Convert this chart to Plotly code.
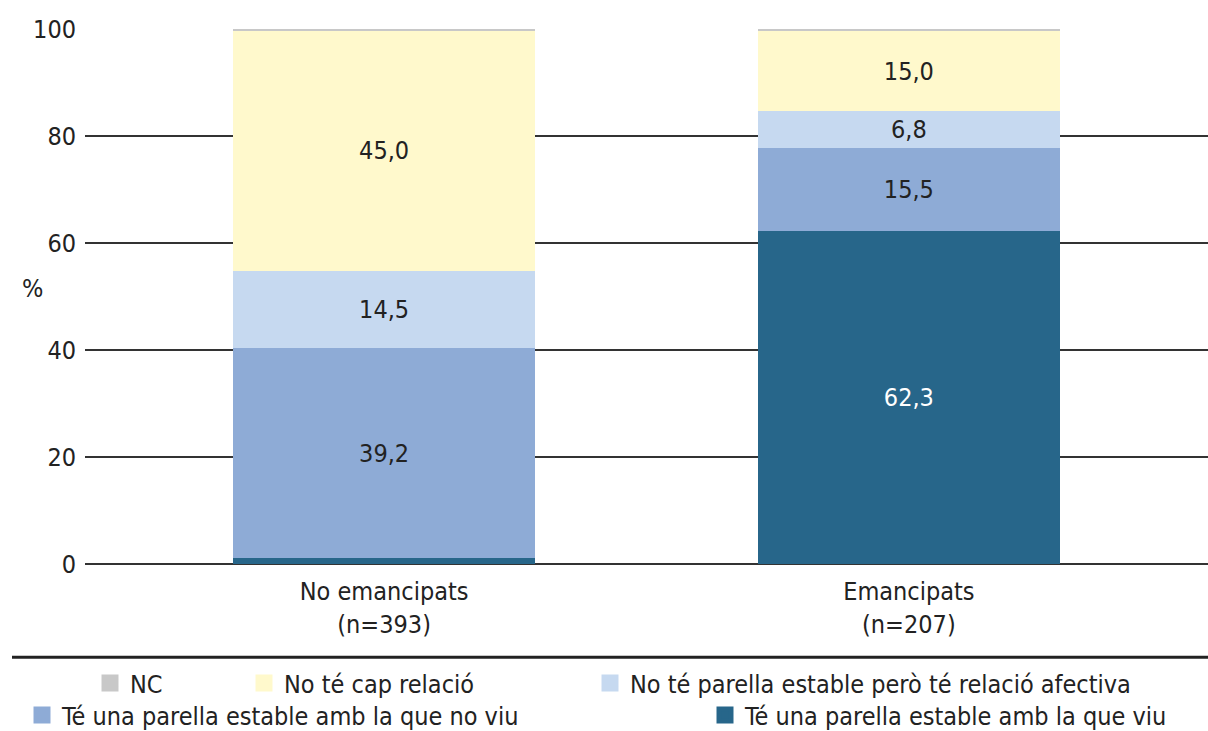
import plotly.graph_objects as go

categories = ["No emancipats<br>(n=393)", "Emancipats<br>(n=207)"]
series_names = [
    "Té una parella estable amb la que viu",
    "Té una parella estable amb la que no viu",
    "No té parella estable però té relació afectiva",
    "No té cap relació",
    "NC",
]
viu = [1.1, 62.3]
no_viu = [39.2, 15.5]
afectiva = [14.5, 6.8]
cap_relacio = [45.0, 15.0]
nc = [0.2, 0.4]

series_values = [viu, no_viu, afectiva, cap_relacio, nc]
colors = ["#27668A", "#8EABD6", "#C6D9F0", "#FFF9CC", "#C8C8C8"]
text_colors = ["#FFFFFF", "#222222", "#222222", "#222222", "#222222"]

FONT = "DejaVu Sans Condensed, Liberation Sans Narrow, Roboto, sans-serif"
FS = 25

W, H = 1208, 731
ML, MR, MT, MB = 85, 0, 28.5, 166.5
PH = H - MT - MB
PW = W - ML - MR


def px_x(x):
    return (x - ML) / PW


def px_y(y):
    return (H - MB - y) / PH


legend_order = ["NC", "No té cap relació",
                "No té parella estable però té relació afectiva",
                "Té una parella estable amb la que no viu",
                "Té una parella estable amb la que viu"]
# pixel x of legend box left, pixel y of row centre
legend_pos = {
    "NC": (90, 684),
    "No té cap relació": (244, 684),
    "No té parella estable però té relació afectiva": (590, 684),
    "Té una parella estable amb la que no viu": (22, 716),
    "Té una parella estable amb la que viu": (705, 716),
}
legend_ids = {name: ("legend" if i == 0 else f"legend{i + 1}")
              for i, name in enumerate(legend_order)}

fig = go.Figure()
for name, vals, col, tcol in zip(series_names, series_values, colors, text_colors):
    txt = [f"{v:.1f}".replace(".", ",") if v >= 3 else "" for v in vals]
    fig.add_trace(go.Bar(
        x=categories, y=vals, name=name,
        marker=dict(color=col, line=dict(width=0)),
        text=txt, textposition="inside", insidetextanchor="middle",
        textangle=0, constraintext="none",
        textfont=dict(family=FONT, size=FS, color=tcol),
        width=0.575, showlegend=False,
    ))

# legend entries (larger swatches)
for name, col in zip(series_names, colors):
    fig.add_trace(go.Bar(
        x=[None], y=[None], name=name,
        marker=dict(color=col, line=dict(color=col, width=5)),
        showlegend=True, legend=legend_ids[name], hoverinfo="skip",
    ))

layout_legends = {}
for name, (lx, ly) in legend_pos.items():
    layout_legends[legend_ids[name]] = dict(
        x=px_x(lx), y=px_y(ly), xanchor="left", yanchor="middle",
        orientation="h", bgcolor="rgba(0,0,0,0)",
        font=dict(family=FONT, size=FS, color="#222222"),
        itemwidth=30,
    )

fig.update_layout(
    width=W, height=H,
    margin=dict(l=ML, r=MR, t=MT, b=MB, autoexpand=False),
    barmode="stack",
    plot_bgcolor="white", paper_bgcolor="white",
    font=dict(family=FONT, size=FS, color="#222222"),
    showlegend=True,
    xaxis=dict(range=[-0.57, 1.57], showgrid=False, showline=False,
               ticks="", ticklabelstandoff=10,
               tickfont=dict(family=FONT, size=FS, color="#222222")),
    yaxis=dict(range=[0, 100], dtick=20, showgrid=True, gridcolor="#333333",
               gridwidth=1.5, zeroline=True, zerolinecolor="#333333",
               zerolinewidth=1.5, showline=False, ticks="",
               ticklabelstandoff=8,
               tickfont=dict(family=FONT, size=FS, color="#222222")),
    annotations=[dict(text="%", x=px_x(20), y=px_y(288), xref="paper",
                      yref="paper", showarrow=False,
                      font=dict(family=FONT, size=FS, color="#222222"))],
    shapes=[dict(type="line", xref="paper", yref="paper",
                 x0=px_x(12), x1=1.0, y0=px_y(658), y1=px_y(658),
                 line=dict(color="#222222", width=3))],
    **layout_legends,
)

fig.write_html(
    "out.html",
    config={"displayModeBar": False},
    post_script="document.body.style.margin='0';document.body.style.overflow='hidden';",
)
